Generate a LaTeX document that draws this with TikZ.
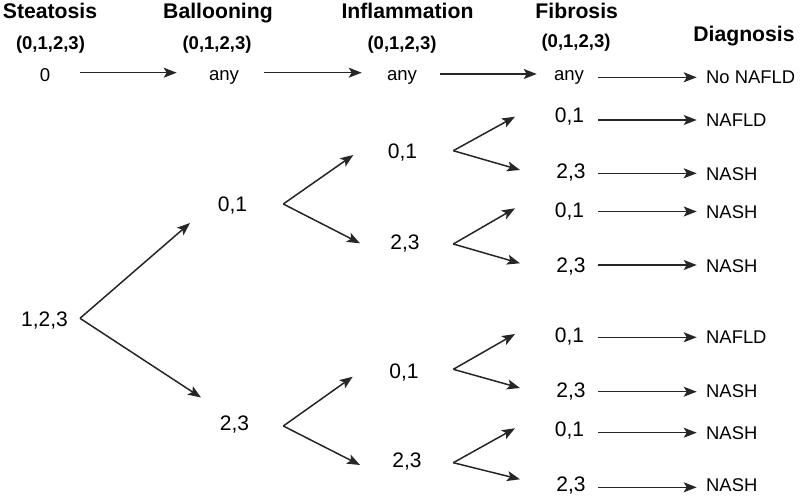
\documentclass[tikz,border=0pt]{standalone}
\usepackage{fontspec}
\setmainfont{Liberation Sans}
\usetikzlibrary{arrows.meta}
\begin{document}
\begin{tikzpicture}[x=1pt,y=-1pt,
  hdr/.style={anchor=base,inner sep=0pt,font=\fontsize{21.2}{25}\selectfont\bfseries},
  par/.style={anchor=base,inner sep=0pt,font=\fontsize{18.5}{22}\selectfont\bfseries},
  val/.style={anchor=base,inner sep=0pt,font=\fontsize{21}{25}\selectfont},
  anyv/.style={anchor=base,inner sep=0pt,font=\fontsize{18.6}{22}\selectfont},
  diag/.style={anchor=west,inner sep=0pt,font=\fontsize{18.4}{22}\selectfont},
  arr/.style={line width=1.5pt,color=black!85,-{Stealth[length=13pt,width=10pt,inset=3pt]}}]
\useasboundingbox (0,0) rectangle (800,495);
% headers
\node[hdr] (hS) at (50,18.5) {Steatosis};
\node[hdr] (hB) at (218,18.5) {Ballooning};
\node[hdr] (hI) at (407.5,18.5) {Inflammation};
\node[hdr] (hF) at (576.7,18.5) {Fibrosis};
\node[hdr] (hD) at (744,41.7) {Diagnosis};
\node[par] (pS) at (50.5,49) {(0,1,2,3)};
\node[par] (pB) at (217,49) {(0,1,2,3)};
\node[par] (pI) at (402,49) {(0,1,2,3)};
\node[par] (pF) at (576,48) {(0,1,2,3)};
% row 1
\node[anyv] (s0) at (45,81.5) {0};
\node[anyv] (b0) at (224,80.5) {any};
\node[anyv] (i0) at (402,80.5) {any};
\node[anyv] (f0) at (569,80.5) {any};
\node[diag] (d0) at (706,77.5) {No NAFLD};
\coordinate (r1a) at (80,72.7);  \coordinate (r1b) at (176.7,72.7);
\coordinate (r2a) at (264.3,72.7); \coordinate (r2b) at (361.7,72.7);
\coordinate (r3a) at (440,74);  \coordinate (r3b) at (536.7,74);
\coordinate (r4a) at (598.3,77.3); \coordinate (r4b) at (696.7,77.3);
\draw[arr] (r1a) -- (r1b);
\draw[arr] (r2a) -- (r2b);
\draw[arr] (r3a) -- (r3b);
\draw[arr] (r4a) -- (r4b);
% steatosis
\node[val] (s1) at (44.5,326) {1,2,3};
\coordinate (vs) at (80,318.3);
\coordinate (ts1) at (190,223);
\coordinate (ts2) at (201,397.5);
\draw[arr] (vs) -- (ts1);
\draw[arr] (vs) -- (ts2);
% ballooning
\node[val] (b1) at (232.5,211.7) {0,1};
\node[val] (b2) at (234.5,430) {2,3};
\coordinate (vb1) at (283.3,204);
\coordinate (tb1a) at (353.3,155);
\coordinate (tb1b) at (360,243.3);
\coordinate (vb2) at (283.3,426);
\coordinate (tb2a) at (352.7,376.7);
\coordinate (tb2b) at (360,465);
\draw[arr] (vb1) -- (tb1a);
\draw[arr] (vb1) -- (tb1b);
\draw[arr] (vb2) -- (tb2a);
\draw[arr] (vb2) -- (tb2b);
% inflammation
\node[val] (i1) at (402.5,158.3) {0,1};
\node[val] (i2) at (405,249) {2,3};
\node[val] (i3) at (404,378) {0,1};
\node[val] (i4) at (407,467) {2,3};
\coordinate (vi1) at (453.3,150.7);
\coordinate (ti1a) at (515,116.7);
\coordinate (ti1b) at (520,170);
\coordinate (vi2) at (453.3,244);
\coordinate (ti2a) at (515,208.3);
\coordinate (ti2b) at (520,263.3);
\coordinate (vi3) at (453.3,369.3);
\coordinate (ti3a) at (515,334);
\coordinate (ti3b) at (520,388);
\coordinate (vi4) at (453.3,462.7);
\coordinate (ti4a) at (515,428.3);
\coordinate (ti4b) at (520,479.3);
\foreach \v in {1,2,3,4}{
  \draw[arr] (vi\v) -- (ti\v a);
  \draw[arr] (vi\v) -- (ti\v b);
}
% fibrosis and diagnosis
\node[val] (f1) at (569.5,122) {0,1};
\node[val] (f2) at (571,178) {2,3};
\node[val] (f3) at (569.5,217) {0,1};
\node[val] (f4) at (571,272) {2,3};
\node[val] (f5) at (569.5,342) {0,1};
\node[val] (f6) at (571,397) {2,3};
\node[val] (f7) at (569.5,436) {0,1};
\node[val] (f8) at (571,491) {2,3};
\node[diag] (d1) at (706,120.5) {NAFLD};
\node[diag] (d2) at (706,174) {NASH};
\node[diag] (d3) at (706,212.5) {NASH};
\node[diag] (d4) at (706,266.5) {NASH};
\node[diag] (d5) at (706,337.5) {NAFLD};
\node[diag] (d6) at (706,391.5) {NASH};
\node[diag] (d7) at (706,433) {NASH};
\node[diag] (d8) at (706,485) {NASH};
\foreach \n/\y in {1/120,2/173.3,3/211.5,4/265,5/337.3,6/391.7,7/432.7,8/487.3}{
  \coordinate (fa\n) at (598.3,\y);
  \coordinate (fb\n) at (696.7,\y);
  \draw[arr] (fa\n) -- (fb\n);
}
\end{tikzpicture}
\end{document}
